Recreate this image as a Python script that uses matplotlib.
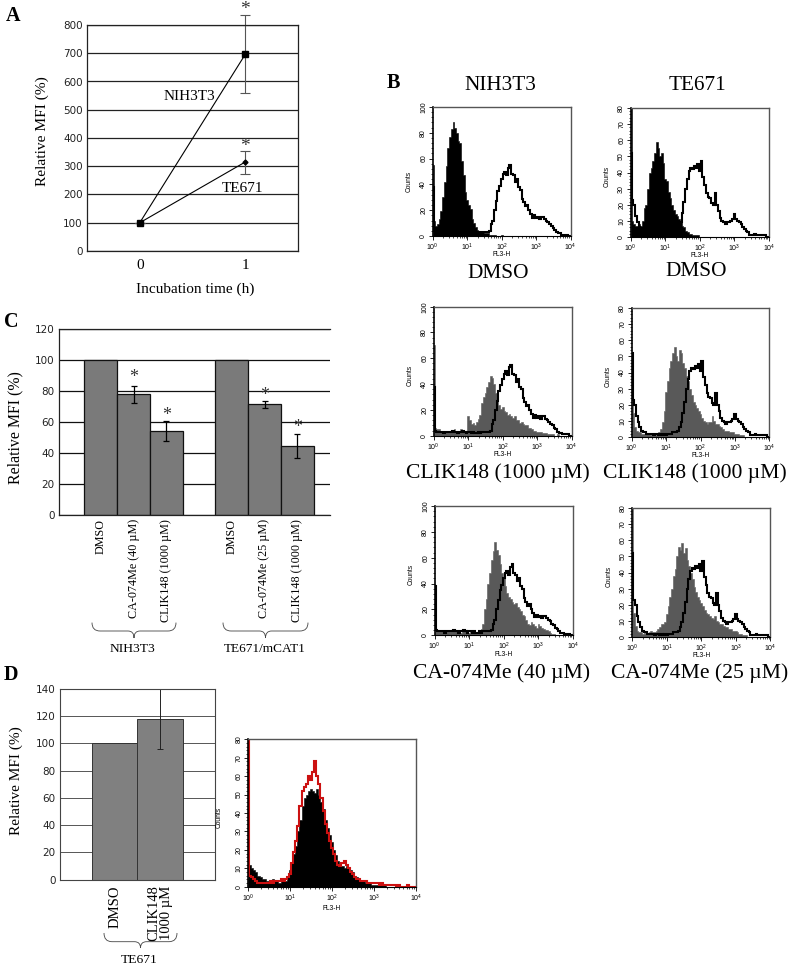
import numpy as np
import matplotlib
matplotlib.use('Agg')
import matplotlib.pyplot as plt
from matplotlib.path import Path
from matplotlib.patches import PathPatch
from matplotlib.ticker import MultipleLocator, LogFormatterMathtext, LogLocator, NullFormatter

W = 790
H = 977

# panel A
hours = ['0', '1']
nih_time = [100, 696]
nih_err_low = [0, 138]
nih_err_high = [0, 138]
te_time = [100, 315]
te_err_low = [0, 44]
te_err_high = [0, 39]

# panel C
c_labels = ['DMSO', 'CA-074Me (40 µM)', 'CLIK148 (1000 µM)', 'DMSO', 'CA-074Me (25 µM)', 'CLIK148 (1000 µM)']
c_values = [100, 78, 54, 100, 71.5, 44.5]
c_err = [0, 5.5, 6.5, 0, 2.2, 7.5]
c_star = [None, 88.4, 64.5, None, 77.4, 56.5]

# panel D
d_labels = ['DMSO', 'CLIK148\n1000 µM']
d_values = [100, 117.7]
d_err = [0, 22]

# histogram channels, in decades of FL3-H
decades = [
	0.00, 0.05, 0.10, 0.15, 0.20, 0.25, 0.30, 0.35, 0.40, 0.45,
	0.50, 0.55, 0.60, 0.65, 0.70, 0.75, 0.80, 0.85, 0.90, 0.95,
	1.00, 1.05, 1.10, 1.15, 1.20, 1.25, 1.30, 1.35, 1.40, 1.45,
	1.50, 1.55, 1.60, 1.65, 1.70, 1.75, 1.80, 1.85, 1.90, 1.95,
	2.00, 2.05, 2.10, 2.15, 2.20, 2.25, 2.30, 2.35, 2.40, 2.45,
	2.50, 2.55, 2.60, 2.65, 2.70, 2.75, 2.80, 2.85, 2.90, 2.95,
	3.00, 3.05, 3.10, 3.15, 3.20, 3.25, 3.30, 3.35, 3.40, 3.45,
	3.50, 3.55, 3.60, 3.65, 3.70, 3.75, 3.80, 3.85, 3.90, 3.95,
	4.00]

nih_open = [
	38, 4, 3, 3, 3, 3, 2, 3, 3, 3,
	3, 4, 3, 3, 2, 3, 3, 4, 3, 2,
	3, 3, 2, 3, 2, 2, 3, 2, 3, 3,
	3, 3, 3, 4, 9, 12, 20, 27, 35, 39,
	44, 48, 50, 47, 53, 55, 48, 47, 42, 44,
	38, 36, 29, 26, 23, 24, 20, 17, 14, 16,
	14, 15, 13, 15, 15, 13, 12, 11, 9, 8,
	6, 5, 3, 2, 2, 1, 1, 1, 1, 0,
	0]
nih_dmso = [
	55, 12, 8, 9, 13, 19, 30, 42, 54, 68,
	77, 83, 88, 84, 80, 74, 72, 58, 47, 34,
	28, 24, 21, 13, 10, 7, 5, 4, 3, 3,
	2, 2, 2, 1, 1, 1, 1, 0, 0, 0,
	1, 0, 0, 0, 0, 0, 0, 0, 0, 0,
	0, 0, 0, 0, 0, 0, 0, 0, 0, 0,
	0, 0, 0, 0, 0, 0, 0, 0, 0, 0,
	0, 0, 0, 0, 0, 0, 0, 0, 0, 0,
	0]
nih_clik = [
	70, 6, 5, 5, 4, 4, 4, 3, 4, 3,
	3, 4, 5, 4, 3, 3, 5, 4, 3, 4,
	15, 12, 9, 10, 8, 11, 13, 16, 25, 30,
	33, 38, 42, 46, 45, 40, 33, 27, 24, 21,
	22, 19, 18, 16, 17, 15, 14, 15, 12, 12,
	10, 11, 9, 8, 8, 6, 6, 5, 4, 4,
	3, 3, 3, 2, 2, 2, 1, 1, 1, 1,
	0, 0, 1, 0, 0, 0, 0, 0, 0, 0,
	0]
nih_ca = [
	28, 3, 3, 3, 4, 4, 3, 3, 3, 3,
	3, 3, 3, 3, 3, 2, 3, 3, 3, 2,
	2, 3, 2, 2, 2, 2, 3, 5, 9, 20,
	28, 40, 48, 58, 65, 72, 66, 62, 55, 48,
	44, 38, 33, 30, 28, 26, 24, 25, 22, 20,
	19, 16, 15, 12, 9, 8, 10, 9, 7, 6,
	9, 7, 6, 5, 4, 4, 3, 2, 1, 1,
	0, 0, 0, 0, 0, 0, 0, 0, 0, 0,
	0]
te_open = [
	52, 23, 20, 13, 9, 6, 4, 3, 3, 2,
	2, 2, 2, 1, 2, 2, 1, 2, 1, 2,
	1, 2, 2, 2, 3, 3, 3, 4, 6, 9,
	15, 22, 30, 36, 41, 43, 42, 44, 43, 45,
	41, 47, 37, 32, 27, 25, 24, 21, 20, 27,
	20, 16, 12, 10, 9, 8, 9, 9, 10, 11,
	14, 11, 10, 9, 8, 6, 5, 4, 3, 1,
	1, 1, 2, 1, 1, 1, 1, 1, 1, 0,
	0]
te_dmso = [
	80, 10, 8, 7, 7, 8, 7, 10, 18, 20,
	30, 40, 43, 47, 52, 59, 55, 50, 52, 46,
	36, 35, 28, 24, 20, 17, 14, 13, 11, 9,
	7, 6, 4, 3, 2, 2, 1, 1, 1, 1,
	0, 0, 0, 0, 0, 0, 0, 0, 0, 0,
	0, 0, 0, 0, 0, 0, 0, 0, 0, 0,
	0, 0, 0, 0, 0, 0, 0, 0, 0, 0,
	0, 0, 0, 0, 0, 0, 0, 0, 0, 0,
	0]
te_clik = [
	52, 15, 6, 4, 3, 3, 2, 2, 2, 2,
	2, 1, 2, 2, 1, 2, 3, 5, 9, 16,
	28, 35, 43, 47, 52, 56, 50, 47, 54, 52,
	46, 43, 38, 35, 30, 26, 22, 20, 18, 16,
	14, 12, 10, 9, 8, 9, 9, 13, 10, 8,
	8, 7, 6, 5, 4, 4, 4, 3, 3, 3,
	2, 2, 2, 1, 1, 1, 0, 0, 0, 0,
	0, 0, 0, 0, 0, 0, 0, 0, 0, 0,
	0]
te_ca = [
	80, 15, 7, 4, 3, 3, 2, 3, 2, 2,
	3, 4, 3, 3, 4, 5, 6, 8, 8, 9,
	14, 19, 25, 30, 38, 42, 50, 56, 54, 58,
	52, 55, 48, 44, 40, 36, 31, 28, 25, 23,
	21, 19, 17, 15, 14, 13, 12, 11, 13, 10,
	9, 8, 8, 7, 6, 6, 5, 5, 4, 4,
	4, 3, 2, 2, 1, 1, 1, 0, 0, 0,
	0, 0, 0, 0, 0, 0, 0, 0, 0, 0,
	0]
d_black = [
	60, 12, 10, 9, 8, 6, 5, 4, 4, 3,
	3, 3, 4, 3, 3, 2, 3, 4, 3, 5,
	9, 13, 18, 22, 30, 36, 44, 48, 50, 52,
	53, 52, 51, 53, 50, 46, 42, 36, 32, 28,
	24, 20, 17, 14, 12, 11, 10, 11, 10, 9,
	8, 6, 5, 4, 3, 3, 2, 2, 2, 1,
	1, 1, 1, 1, 1, 1, 0, 0, 0, 0,
	0, 0, 0, 0, 0, 0, 0, 0, 0, 0,
	0]
d_red = [
	80, 6, 5, 4, 3, 2, 2, 2, 2, 2,
	2, 3, 2, 3, 3, 3, 4, 3, 4, 5,
	7, 13, 19, 25, 33, 44, 52, 54, 56, 60,
	58, 62, 68, 60, 56, 48, 41, 34, 29, 25,
	21, 18, 14, 12, 11, 13, 14, 12, 10, 8,
	7, 5, 4, 4, 3, 3, 3, 2, 2, 2,
	2, 2, 2, 1, 2, 1, 1, 1, 1, 1,
	1, 0, 1, 0, 0, 0, 1, 0, 0, 0,
	0]

plt.rcParams['font.family'] = ['Liberation Serif', 'DejaVu Sans']
plt.rcParams['mathtext.default'] = 'regular'
GRID_SANS = ['DejaVu Sans']
FACS_SANS = ['Liberation Sans']

fig = plt.figure(figsize=(W / 100, H / 100), dpi=100, facecolor='white')


def px_axes(left, top, right, bottom):
	return fig.add_axes([left / W, 1 - bottom / H, (right - left) / W, (bottom - top) / H])


def px_text(x, y, s, **kw):
	kw.setdefault('ha', 'center')
	kw.setdefault('va', 'center')
	fig.text(x / W, 1 - y / H, s, **kw)


def brace(x0, x1, y0, y1, y2):
	# curly brace in pixel positions, opening upwards
	xm = (x0 + x1) / 2
	pts = [(x0, y0), (x0, y1), (x0 + 8, y1), (xm - 6, y1), (xm, y1), (xm, y2),
		(xm, y1), (xm + 6, y1), (x1 - 8, y1), (x1, y1), (x1, y0)]
	codes = [Path.MOVETO, Path.CURVE3, Path.CURVE3, Path.LINETO, Path.CURVE3, Path.CURVE3,
		Path.CURVE3, Path.CURVE3, Path.LINETO, Path.CURVE3, Path.CURVE3]
	verts = [(x / W, 1 - y / H) for x, y in pts]
	fig.add_artist(PathPatch(Path(verts, codes), fill=False, lw=0.6, ec='#444444', transform=fig.transFigure))


def grid_axes(ax, ymax, step, size=7.5):
	ax.set_ylim(0, ymax)
	ax.set_yticks(range(0, ymax + 1, step))
	ax.tick_params(axis='y', length=0, pad=3, labelsize=size, labelcolor='#222222')
	for label in ax.get_yticklabels():
		label.set_family(GRID_SANS)
	ax.tick_params(axis='x', length=0)
	ax.set_axisbelow(True)


def facs(rect, ymax, major, minor, fill, line=None, fill_color='#595959', line_color='black', counts_y=0.47):
	ax = px_axes(*rect)
	x = 10 ** np.array(decades)
	ax.fill_between(x, fill, step='mid', color=fill_color, lw=0.4)
	if line is not None:
		ax.step(x, line, where='mid', color=line_color, lw=1.5, solid_joinstyle='miter')
	ax.set_xscale('log')
	ax.set_xlim(1, 10000)
	ax.set_ylim(0, ymax)
	ax.xaxis.set_major_locator(LogLocator(base=10, numticks=6))
	ax.xaxis.set_major_formatter(LogFormatterMathtext())
	ax.xaxis.set_minor_locator(LogLocator(base=10, subs=range(2, 10), numticks=6))
	ax.xaxis.set_minor_formatter(NullFormatter())
	ax.yaxis.set_major_locator(MultipleLocator(major))
	ax.yaxis.set_minor_locator(MultipleLocator(minor))
	ax.tick_params(which='major', length=3, width=0.6, labelsize=5, pad=1)
	ax.tick_params(which='minor', length=1.5, width=0.5)
	for label in ax.get_xticklabels() + ax.get_yticklabels():
		label.set_family(FACS_SANS)
	for label in ax.get_yticklabels():
		label.set_rotation(90)
		label.set_va('center')
	for side in ['top', 'right']:
		ax.spines[side].set_color('#555555')
		ax.spines[side].set_linewidth(1)
	ax.spines['left'].set_linewidth(1.2)
	ax.spines['bottom'].set_linewidth(0.8)
	ax.text(0.5, -0.145, 'FL3-H', transform=ax.transAxes, ha='center', va='center', fontsize=4.8, family=FACS_SANS)
	ax.text(-0.17, counts_y, 'Counts', transform=ax.transAxes, ha='center', va='center', rotation=90, fontsize=4.8, family=FACS_SANS)
	return ax


# panel A
ax = px_axes(87, 25, 298, 251)
ax.set_xlim(-0.5, 1.5)
grid_axes(ax, 800, 100)
ax.yaxis.grid(True, color='#222222', lw=0.9)
ax.set_xticks([0, 1])
ax.set_xticklabels(hours, fontsize=11)
ax.tick_params(axis='x', pad=6)
for side in ['top', 'right', 'left', 'bottom']:
	ax.spines[side].set_color('#222222')
	ax.spines[side].set_linewidth(0.9)
ax.errorbar([0, 1], nih_time, yerr=[nih_err_low, nih_err_high], color='black', lw=0.8, marker='s', ms=4.5,
	ecolor='#555555', elinewidth=0.8, capsize=3.5, capthick=0.8, clip_on=False)
ax.errorbar([0, 1], te_time, yerr=[te_err_low, te_err_high], color='black', lw=0.8, marker='D', ms=2.5,
	ecolor='#555555', elinewidth=0.8, capsize=3.5, capthick=0.8, clip_on=False)
ax.text(1, 855, '*', ha='center', va='center', fontsize=14, color='#333333', clip_on=False)
ax.text(1, 370, '*', ha='center', va='center', fontsize=14, color='#333333')
px_text(189, 97, 'NIH3T3', fontsize=11)
px_text(242, 188, 'TE671', fontsize=11)
px_text(42, 131, 'Relative MFI (%)', fontsize=11.1, rotation=90)
px_text(195, 289, 'Incubation time (h)', fontsize=11)

# panel C
ax = px_axes(59, 329, 330, 515)
px_per_bar = 32.8
c_pos = [(84.3 + px_per_bar * (i + 0.5) - 59) if i < 3 else (215.3 + px_per_bar * (i - 3 + 0.5) - 59) for i in range(6)]
ax.set_xlim(0, 271)
grid_axes(ax, 120, 20)
ax.yaxis.grid(True, color='#111111', lw=0.9)
ax.bar(c_pos, c_values, width=px_per_bar, color='#7a7a7a', edgecolor='#111111', lw=0.9)
for xp, v, e in zip(c_pos, c_values, c_err):
	if e:
		ax.errorbar(xp, v, yerr=e, color='black', lw=0.9, capsize=2.5, capthick=0.9)
for xp, s in zip(c_pos, c_star):
	if s is not None:
		ax.text(xp, s, '*', ha='center', va='center', fontsize=13, color='#333333')
ax.set_xticks(c_pos)
ax.set_xticklabels(c_labels, rotation=90, fontsize=8.7, va='top')
ax.tick_params(axis='x', pad=3)
for side in ['right']:
	ax.spines[side].set_visible(False)
for side in ['top', 'left', 'bottom']:
	ax.spines[side].set_color('#222222')
	ax.spines[side].set_linewidth(0.9)
px_text(15, 427.5, 'Relative MFI (%)', fontsize=11.4, rotation=90)
brace(92, 176, 622.6, 631, 638)
brace(223, 308, 622.6, 631, 638)
px_text(133, 648.7, 'NIH3T3', fontsize=9.7)
px_text(265, 648.7, 'TE671/mCAT1', fontsize=9.5)

# panel D
ax = px_axes(60, 689, 215, 879.7)
ax.set_xlim(-1.2, 2.2)
grid_axes(ax, 140, 20)
ax.yaxis.grid(True, color='#555555', lw=0.7)
ax.bar([0, 1], d_values, width=1, color='#808080', edgecolor='#333333', lw=0.7)
ax.errorbar(1, d_values[1], yerr=d_err[1], color='#222222', lw=0.7, capsize=2.5, capthick=0.7, clip_on=False)
ax.set_xticks([0, 1])
ax.set_xticklabels(d_labels, rotation=90, fontsize=10.5, va='top', linespacing=1.0)
ax.tick_params(axis='x', pad=4)
for side in ['top', 'left', 'bottom', 'right']:
	ax.spines[side].set_color('#444444')
	ax.spines[side].set_linewidth(0.8)
px_text(16, 781, 'Relative MFI (%)', fontsize=11, rotation=90)
brace(104, 177, 933, 941.7, 948)
px_text(139, 960, 'TE671', fontsize=9.7)

# panel B
facs((432.7, 107, 570.7, 236), 100, 20, 4, nih_dmso, nih_open, fill_color='black', counts_y=0.42)
facs((630.7, 108, 769, 237), 80, 10, 2, te_dmso, te_open, fill_color='black')
facs((433.7, 306.7, 571.7, 435.7), 100, 20, 4, nih_clik, nih_open)
facs((631.7, 308, 769.3, 437), 80, 10, 2, te_clik, te_open)
facs((434.7, 506, 573, 635.3), 100, 20, 4, nih_ca, nih_open)
facs((632.3, 508, 770.3, 637), 80, 10, 2, te_ca, te_open)

# histogram of panel D
facs((248, 739.3, 416, 886.7), 80, 10, 2, d_black, d_red, fill_color='black', line_color='#cc1111')

px_text(500.7, 85, 'NIH3T3', fontsize=15.3)
px_text(697.7, 85, 'TE671', fontsize=15.3)
px_text(498, 274, 'DMSO', fontsize=15.4)
px_text(696, 271.7, 'DMSO', fontsize=15.4)
px_text(497.7, 473.3, 'CLIK148 (1000 µM)', fontsize=15.6)
px_text(695, 473.3, 'CLIK148 (1000 µM)', fontsize=15.6)
px_text(501.7, 673.3, 'CA-074Me (40 µM)', fontsize=15.6)
px_text(700, 673.3, 'CA-074Me (25 µM)', fontsize=15.6)

# panel letters
for letter, x, y in [('A', 6, 21), ('B', 387, 88), ('C', 4, 327), ('D', 4, 680)]:
	px_text(x, y, letter, ha='left', va='baseline', fontsize=14.5, fontweight='bold')

fig.savefig('out.png', dpi=100)
